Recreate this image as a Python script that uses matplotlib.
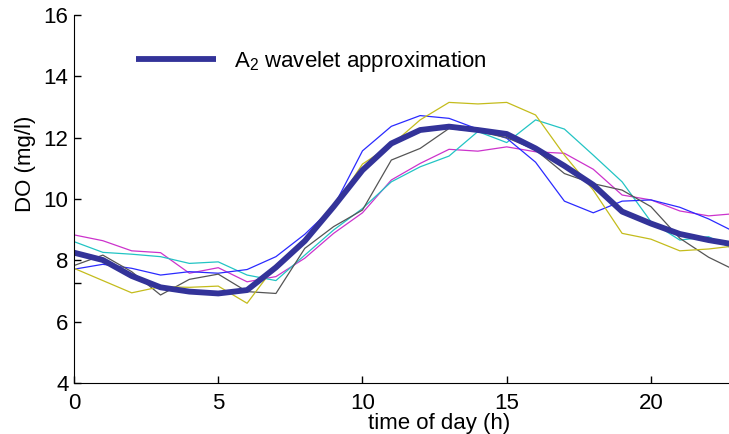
import matplotlib
matplotlib.use("Agg")
import matplotlib.pyplot as plt
import numpy as np

plt.rcParams['font.family'] = ['Liberation Sans', 'DejaVu Sans']
plt.rcParams['mathtext.fontset'] = 'custom'
plt.rcParams['mathtext.rm'] = 'Liberation Sans'
plt.rcParams['mathtext.it'] = 'Liberation Sans'

hours = list(range(24))
magenta = [8.83, 8.64, 8.31, 8.25, 7.58, 7.76, 7.30, 7.47, 8.07, 8.88, 9.55, 10.62,
           11.16, 11.62, 11.56, 11.70, 11.54, 11.49, 10.97, 10.13, 9.97, 9.61, 9.45, 9.53]
cyan = [8.61, 8.26, 8.20, 8.12, 7.90, 7.95, 7.52, 7.34, 8.17, 8.99, 9.69, 10.56,
        11.05, 11.40, 12.20, 11.84, 12.58, 12.28, 11.43, 10.56, 9.26, 8.66, 8.77, 8.30]
blue = [7.71, 7.87, 7.74, 7.52, 7.63, 7.58, 7.70, 8.12, 8.85, 9.75, 11.57, 12.37,
        12.72, 12.63, 12.28, 11.98, 11.20, 9.93, 9.55, 9.93, 9.97, 9.73, 9.35, 8.88]
gray = [7.83, 8.17, 7.63, 6.87, 7.38, 7.55, 6.98, 6.92, 8.39, 9.10, 9.64, 11.27,
        11.65, 12.30, 12.20, 12.00, 11.60, 10.83, 10.50, 10.29, 9.75, 8.72, 8.10, 7.64]
yellow = [7.74, 7.34, 6.94, 7.14, 7.12, 7.16, 6.60, 7.85, 8.61, 9.70, 11.14, 11.76,
          12.58, 13.15, 13.10, 13.15, 12.74, 11.43, 10.29, 8.88, 8.69, 8.31, 8.37, 8.48]
approx = [8.25, 8.01, 7.49, 7.12, 6.98, 6.92, 7.03, 7.77, 8.63, 9.75, 10.94, 11.81,
          12.25, 12.36, 12.25, 12.12, 11.65, 11.08, 10.46, 9.59, 9.20, 8.86, 8.66, 8.50]

xticks = [0, 5, 10, 15, 20]
yticks = [4, 6, 8, 10, 12, 14, 16]

fig = plt.figure(figsize=(7.29, 4.34), dpi=100)
ax = fig.add_axes([74/729, 51/434, 663.5/729, 368/434])

thin = 0.9
ax.plot(hours, magenta, color='#cc33cc', lw=thin)
ax.plot(hours, cyan, color='#22c4c4', lw=thin)
ax.plot(hours, blue, color='#2a2aff', lw=thin)
ax.plot(hours, gray, color='#555555', lw=thin)
ax.plot(hours, yellow, color='#c4bc1c', lw=thin)
ax.plot(hours, approx, color='#333399', lw=4.2, solid_capstyle='butt',
        label=r'A$_2$ wavelet approximation')

ax.set_xlim(0, 23)
ax.set_ylim(4, 16)
ax.set_xticks(xticks)
ax.set_yticks(yticks)
ax.set_yticks([7.25], minor=True)
ax.tick_params(which='both', direction='in', length=5, width=1, labelsize=16,
               top=False, right=False)
ax.tick_params(axis='x', pad=7)
ax.tick_params(axis='y', pad=4)
ax.spines['top'].set_visible(False)
ax.spines['right'].set_visible(False)
ax.set_xlabel('time of day (h)', fontsize=16)
ax.set_ylabel('DO (mg/l)', fontsize=16)
ax.xaxis.set_label_coords(0.55, -0.082, transform=ax.transAxes)
ax.xaxis.label.set_verticalalignment('top')
ax.yaxis.set_label_coords(-0.058, 0.595, transform=ax.transAxes)

leg = ax.legend(loc='center left', bbox_to_anchor=(136/729, 1 - 61/434),
                bbox_transform=fig.transFigure, frameon=False, fontsize=16,
                handlelength=3.6, handletextpad=0.8, borderpad=0, borderaxespad=0)

fig.savefig('out.png', dpi=100)
